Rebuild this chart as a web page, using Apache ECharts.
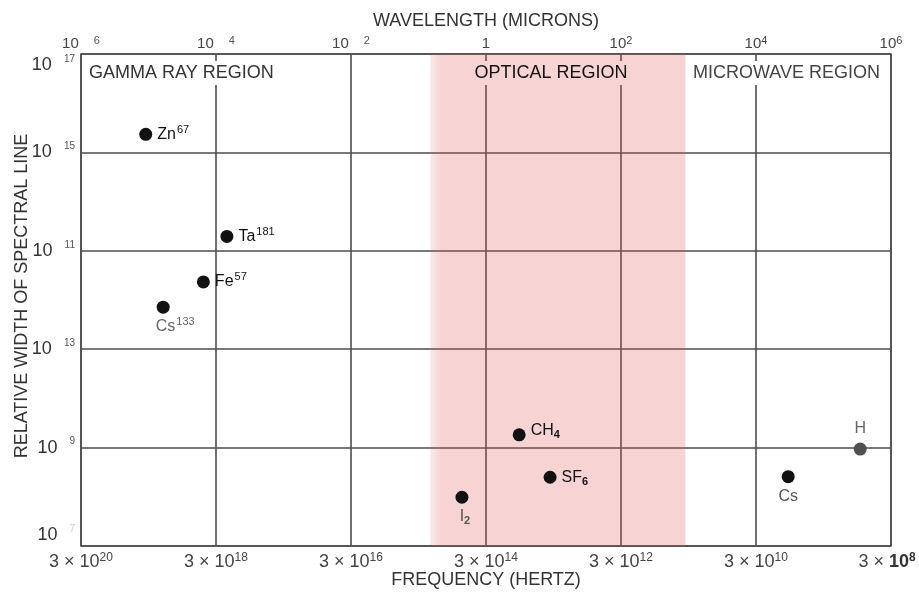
<!DOCTYPE html>
<html>
<head>
<meta charset="utf-8">
<title>Spectral line widths</title>
<style>
  html, body { margin: 0; padding: 0; background: #ffffff; }
  #chart { width: 919px; height: 592px; }
</style>
<script src="https://cdn.jsdelivr.net/npm/echarts@6/dist/echarts.min.js"></script>
</head>
<body>
<div id="chart"></div>
<script>
// Relative width of spectral lines, plotted against wavelength (log scales).
const lineNames = ['Zn67', 'Ta181', 'Fe57', 'Cs133', 'I2', 'CH4', 'SF6', 'Cs', 'H'];
// wavelength of each line, in microns
const wavelengthMicrons = [9.1e-6, 1.45e-4, 6.5e-5, 1.65e-5, 0.44, 3.1, 8.9, 3.0e4, 3.5e5];
// relative width of each line
const relativeWidth = [4.3e-16, 5.1e-14, 4.3e-13, 1.4e-12, 1.02e-8, 5.5e-10, 4.0e-9, 3.9e-9, 1.07e-9];
// rich-text label for each line
const lineLabelText = [
  '{t|Zn}{sup|67}', '{t|Ta}{sup|181}', '{t|Fe}{sup|57}', '{t|Cs}{sup|133}',
  '{t|I}{sub|2}', '{t|CH}{sub|4}', '{t|SF}{sub|6}', '{t|Cs}', '{t|H}'
];

// tick labels
const wavelengthTickBase = ['10', '10', '10', '1', '10', '10', '10'];
const wavelengthTickExp = ['6', '4', '2', '', '2', '4', '6'];
const frequencyTickExp = ['20', '18', '16', '14', '12', '10', '8'];
const widthTickExp = ['17', '15', '11', '13', '9', '7'];

// span of the optical region, in microns
const opticalBandMicrons = [0.15, 900];

const FONT = '"Liberation Sans", Arial, Helvetica, sans-serif';

// per-line label placement
const labelPlacement = {
  Zn67:  { position: 'right', distance: 5, color: '#111111' },
  Ta181: { position: 'right', distance: 5, color: '#111111' },
  Fe57:  { position: 'right', distance: 5, color: '#111111' },
  Cs133: { position: 'bottom', distance: 3, offset: [12, 0], color: '#666666' },
  I2:    { position: 'bottom', distance: 3, offset: [3, 0], color: '#555555' },
  CH4:   { position: 'right', distance: 5, offset: [0, -4], color: '#111111' },
  SF6:   { position: 'right', distance: 5, color: '#111111' },
  Cs:    { position: 'bottom', distance: 3, color: '#555555' },
  H:     { position: 'top', distance: 4, color: '#666666' }
};
const dotColor = { H: '#505050' };

const pointRich = {
  t:   { fontSize: 16, lineHeight: 20, fontFamily: FONT },
  sup: { fontSize: 11, lineHeight: 11, verticalAlign: 'top', fontFamily: FONT, padding: [0, 0, 0, 1] },
  sub: { fontSize: 11, lineHeight: 11, verticalAlign: 'bottom', fontFamily: FONT, fontWeight: 'bold' }
};

const points = lineNames.map((name, i) => ({
  name: name,
  value: [Math.log10(wavelengthMicrons[i]), Math.log10(relativeWidth[i])],
  itemStyle: { color: dotColor[name] || '#111111', opacity: 1 },
  label: Object.assign({ show: true, formatter: lineLabelText[i], rich: pointRich }, labelPlacement[name])
}));

const gridColor = '#4d4d4d';

const chart = echarts.init(document.getElementById('chart'), null, { renderer: 'canvas' });

chart.setOption({
  animation: false,
  backgroundColor: '#ffffff',
  grid: {
    left: 81, right: 28, top: 54, bottom: 46,
    containLabel: false,
    outerBoundsMode: 'none',
    show: true,
    borderColor: gridColor,
    borderWidth: 1.5,
    backgroundColor: 'transparent'
  },
  xAxis: [
    {
      // bottom: frequency labels on the log-wavelength scale
      type: 'value',
      position: 'bottom',
      min: -6, max: 6, interval: 2,
      name: 'FREQUENCY (HERTZ)',
      nameLocation: 'middle',
      nameGap: 25,
      nameMoveOverlap: false,
      nameTextStyle: { fontSize: 18, color: '#333333', fontFamily: FONT },
      axisLine: { show: false },
      axisTick: { show: false },
      splitLine: { show: true, lineStyle: { color: gridColor, width: 1.6 } },
      axisLabel: {
        margin: 6,
        formatter: function (v) {
          const idx = Math.round((v + 6) / 2);
          if (idx === frequencyTickExp.length - 1) {
            return '{b|3 × }{bb|10}{sb|' + frequencyTickExp[idx] + '}';
          }
          return '{b|3 × 10}{s|' + frequencyTickExp[idx] + '}';
        },
        rich: {
          b:  { fontSize: 18, lineHeight: 20, color: '#444444', fontFamily: FONT },
          s:  { fontSize: 12, lineHeight: 12, verticalAlign: 'top', color: '#444444', fontFamily: FONT },
          bb: { fontSize: 18, lineHeight: 20, color: '#333333', fontFamily: FONT, fontWeight: 'bold' },
          sb: { fontSize: 12, lineHeight: 12, verticalAlign: 'top', color: '#333333', fontFamily: FONT, fontWeight: 'bold', padding: [0, 8, 0, 0] }
        }
      }
    },
    {
      // top: wavelength in microns
      type: 'value',
      position: 'top',
      min: -6, max: 6, interval: 2,
      name: 'WAVELENGTH (MICRONS)',
      nameLocation: 'middle',
      nameGap: 24,
      nameMoveOverlap: false,
      nameTextStyle: { fontSize: 18, color: '#333333', fontFamily: FONT },
      axisLine: { show: false },
      axisTick: { show: false },
      splitLine: { show: false },
      axisLabel: {
        margin: 1,
        formatter: function (v) {
          const idx = Math.round((v + 6) / 2);
          const base = wavelengthTickBase[idx];
          const exp = wavelengthTickExp[idx];
          if (!exp) return '{b|' + base + '}';
          return '{b|' + base + '}{' + (idx < 3 ? 'gs' : 's') + '|' + exp + '}';
        },
        rich: {
          b:  { fontSize: 15, lineHeight: 18, color: '#444444', fontFamily: FONT },
          s:  { fontSize: 11, lineHeight: 11, verticalAlign: 'top', color: '#444444', fontFamily: FONT },
          gs: { fontSize: 11, lineHeight: 11, verticalAlign: 'top', color: '#555555', fontFamily: FONT, padding: [0, 0, 0, 15] }
        }
      }
    }
  ],
  yAxis: {
    // log10 of relative width, narrowest at the top
    type: 'value',
    inverse: true,
    min: -17, max: -7, interval: 1,
    name: 'RELATIVE WIDTH OF SPECTRAL LINE',
    nameLocation: 'middle',
    nameGap: 50,
    nameMoveOverlap: false,
    nameTextStyle: { fontSize: 18, color: '#333333', fontFamily: FONT, padding: [0, 0, 0, 8] },
    axisLine: { show: false },
    axisTick: { show: false },
    splitLine: {
      show: true,
      lineStyle: { color: [gridColor, 'rgba(0,0,0,0)'], width: 1.6 }
    },
    axisLabel: {
      margin: 6,
      verticalAlignMinLabel: 'top',
      verticalAlignMaxLabel: 'bottom',
      formatter: function (v) {
        const step = Math.round(v + 17);
        if (step % 2 !== 0) return '';
        const idx = step / 2;
        const supStyle = idx === widthTickExp.length - 1 ? 'f' : 's';
        return '{b|10}{' + supStyle + '|' + widthTickExp[idx] + '}';
      },
      rich: {
        b: { fontSize: 18, lineHeight: 22, color: '#333333', fontFamily: FONT },
        s: { fontSize: 10, lineHeight: 10, verticalAlign: 'top', color: '#555555', fontFamily: FONT, padding: [0, 0, 0, 12] },
        f: { fontSize: 10, lineHeight: 10, verticalAlign: 'top', color: '#cccccc', fontFamily: FONT, padding: [0, 0, 0, 12] }
      }
    }
  },
  series: [
    {
      type: 'scatter',
      xAxisIndex: 0,
      symbol: 'circle',
      symbolSize: 13,
      itemStyle: { opacity: 1 },
      data: points,
      markArea: {
        silent: true,
        itemStyle: {
          color: {
            type: 'linear', x: 0, y: 0, x2: 1, y2: 0,
            colorStops: [
              { offset: 0, color: 'rgba(223,83,83,0.13)' },
              { offset: 0.04, color: 'rgba(223,83,83,0.25)' },
              { offset: 1, color: 'rgba(223,83,83,0.25)' }
            ]
          }
        },
        data: [[
          { xAxis: Math.log10(opticalBandMicrons[0]) },
          { xAxis: Math.log10(opticalBandMicrons[1]) }
        ]]
      }
    }
  ],
  graphic: [
    {
      type: 'text', x: 86, y: 73, z: 100,
      style: {
        text: 'GAMMA RAY REGION', font: '18px ' + FONT, fill: '#333333',
        align: 'left', verticalAlign: 'middle', backgroundColor: '#ffffff', padding: [3, 3]
      }
    },
    {
      type: 'text', x: 551, y: 73, z: 100,
      style: {
        text: 'OPTICAL REGION', font: '18px ' + FONT, fill: '#111111',
        align: 'center', verticalAlign: 'middle', backgroundColor: '#f7d4d4', padding: [3, 3]
      }
    },
    {
      type: 'text', x: 690, y: 73, z: 100,
      style: {
        text: 'MICROWAVE REGION', font: '18px ' + FONT, fill: '#444444',
        align: 'left', verticalAlign: 'middle', backgroundColor: '#ffffff', padding: [3, 3]
      }
    }
  ]
});
</script>
</body>
</html>
